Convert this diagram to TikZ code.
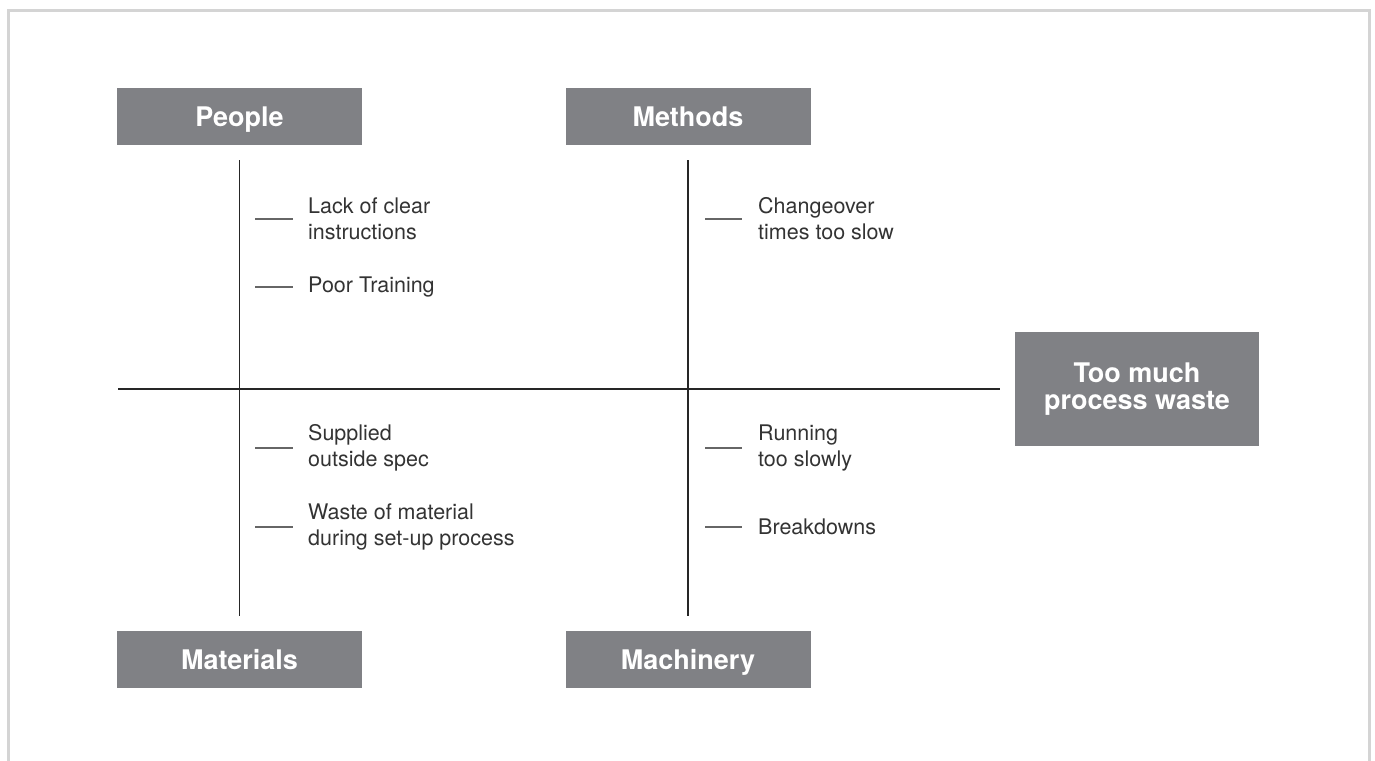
\documentclass[tikz,border=0pt]{standalone}
\usepackage{fontspec}
\setmainfont{TeX Gyre Heros}
\usetikzlibrary{positioning}
\definecolor{boxgrey}{RGB}{128,129,133}
\definecolor{framegrey}{RGB}{212,212,212}
\definecolor{textgrey}{RGB}{51,51,51}
\tikzstyle{greybox} = [rectangle, fill=boxgrey, text=white, font=\fontsize{27}{26.5}\selectfont\bfseries, inner sep=0pt, align=center]
\tikzstyle{category} = [greybox, minimum width=245, minimum height=57, text height=24.3pt, text depth=4.9pt]
\tikzstyle{effect} = [greybox, minimum width=244, minimum height=114]
\tikzstyle{cause} = [anchor=west, inner sep=0pt, align=left, text=textgrey, font=\fontsize{21.5}{26}\selectfont]
\tikzstyle{bone} = [draw, line width=1.5pt, black!85]
\tikzstyle{tick} = [draw, line width=1.3pt, black!60]
\tikzstyle{frame} = [draw=framegrey, line width=3pt]

\begin{document}
\begin{tikzpicture}[x=1pt, y=-1pt]
	\useasboundingbox (0,0) rectangle (1375,760);
	\path [frame] (8.5,770) -- (8.5,11) -- (1369.5,11) -- (1369.5,770);
	\node [category] at (239.5,116.5) (people) {People};
	\node [category] at (688,116.5) (methods) {Methods};
	\node [category] at (239.5,659.5) (materials) {Materials};
	\node [category] at (688,659.5) (machinery) {Machinery};
	\node [effect] at (1137,389) (waste) {Too much\\process waste};
	\coordinate (tail) at (118,389);
	\node [cause] at (308,219) (lack) {Lack of clear\\instructions};
	\node [cause] at (308,287) (training) {Poor Training};
	\node [cause] at (758,219) (changeover) {Changeover\\times too slow};
	\node [cause] at (308,448) (supplied) {Supplied\\outside spec};
	\node [cause] at (308,527) (material) {Waste of material\\during set-up process};
	\node [cause] at (758,448) (running) {Running\\too slowly};
	\node [cause] at (758,527) (breakdowns) {Breakdowns};
	% spine and bones
	\path [bone] (tail) -- ([xshift=-15]waste.west);
	\path [bone] ([yshift=-15]people.south) -- ([yshift=15]materials.north);
	\path [bone] ([yshift=-15]methods.south) -- ([yshift=15]machinery.north);
	% causes
	\path [tick] ([xshift=-53]lack.west) -- ([xshift=-15]lack.west);
	\path [tick] ([xshift=-53]training.west) -- ([xshift=-15]training.west);
	\path [tick] ([xshift=-53]changeover.west) -- ([xshift=-16]changeover.west);
	\path [tick] ([xshift=-53]supplied.west) -- ([xshift=-15]supplied.west);
	\path [tick] ([xshift=-53]material.west) -- ([xshift=-15]material.west);
	\path [tick] ([xshift=-53]running.west) -- ([xshift=-16]running.west);
	\path [tick] ([xshift=-53]breakdowns.west) -- ([xshift=-16]breakdowns.west);
\end{tikzpicture}
\end{document}
